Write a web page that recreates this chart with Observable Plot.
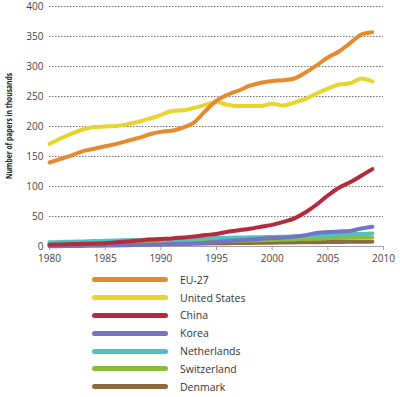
<!DOCTYPE html>
<html>
<head>
<meta charset="utf-8">
<script src="https://cdn.jsdelivr.net/npm/d3@7"></script>
<script src="https://cdn.jsdelivr.net/npm/@observablehq/plot@0.6"></script>
<style>
  html, body { margin: 0; padding: 0; background: #fff; }
  #legend { padding-top: 5px; font-family: "Open Sans", sans-serif; font-size: 10.5px; color: #333; }
  .item { display: flex; align-items: center; height: 17.8px; }
  .sw { margin-left: 92px; width: 76px; height: 5px; border-radius: 3px; }
  .lab { margin-left: 12px; }
</style>
</head>
<body>
<div id="chart"></div>
<div id="legend"></div>
<script>
const years = d3.range(1980, 2010);
const seriesNames = ["EU-27", "United States", "China", "Korea", "Netherlands", "Switzerland", "Denmark"];
const colors = ["#e68a2e", "#e8d42c", "#b52a3c", "#7474c4", "#4dc3c3", "#8cbb3c", "#8b6c40"];
const yTicks = [0, 50, 100, 150, 200, 250, 300, 350, 400];
const xTicks = [1980, 1985, 1990, 1995, 2000, 2005, 2010];

const eu27 = [140, 146, 152, 159, 163, 167, 171, 176, 181, 187, 191, 193, 198, 207, 226, 243, 253, 260, 268, 273, 276, 277, 280, 290, 302, 315, 325, 339, 353, 357];
const usa = [171, 180, 188, 195, 199, 200, 201, 204, 208, 213, 219, 226, 227, 231, 236, 241, 236, 234, 234, 234, 238, 235, 240, 246, 255, 263, 270, 272, 280, 275];
const china = [3, 3.5, 4, 4.5, 5, 5.5, 7, 8.5, 10, 11.5, 12.5, 13.5, 15, 16.5, 19, 21, 24.5, 27, 29.5, 33, 36, 41, 47, 57, 70, 85, 98, 107, 118, 129];
const korea = [0.5, 0.6, 0.8, 1, 1.2, 1.5, 1.8, 2.2, 2.6, 3, 3.5, 4, 4.5, 5, 6, 7.5, 9, 10.5, 11.5, 13, 14, 15, 16.5, 19, 22.5, 24, 25, 26, 30, 33];
const netherlands = [7, 7.5, 8, 8.5, 9, 9.5, 10, 10.5, 11, 11.5, 12, 12.3, 12.7, 13, 13.5, 14, 14.5, 15, 15.3, 15.6, 16, 16.3, 16.8, 17.5, 18.3, 19, 19.8, 20.5, 21, 21.5];
const switzerland = [4, 4.2, 4.4, 4.6, 4.8, 5, 5.3, 5.7, 6.1, 6.5, 7, 7.3, 7.7, 8, 8.5, 9, 9.4, 9.8, 10.2, 10.6, 11, 11.5, 12, 12.6, 13.2, 13.8, 14.3, 14.7, 15, 15.2];
const denmark = [2.5, 2.6, 2.8, 3, 3.1, 3.3, 3.5, 3.7, 3.9, 4.1, 4.3, 4.5, 4.7, 4.9, 5.1, 5.4, 5.6, 5.8, 6, 6.2, 6.4, 6.6, 6.8, 7, 7.2, 7.4, 7.6, 7.8, 8, 8.1];

const values = [eu27, usa, china, korea, netherlands, switzerland, denmark];
const rows = [];
seriesNames.forEach((s, i) => years.forEach((y, j) => rows.push({series: s, year: y, value: values[i][j]})));
const drawOrder = [...seriesNames].reverse();

const plot = Plot.plot({
  width: 400, height: 266,
  marginLeft: 49, marginRight: 17, marginTop: 6, marginBottom: 20,
  style: {fontFamily: "Open Sans, sans-serif", fontSize: "10px", color: "#444", background: "#fff"},
  x: {domain: [1980, 2010], ticks: xTicks, tickFormat: d => String(d), tickSize: 4, tickPadding: 4, label: null},
  y: {domain: [0, 400], ticks: yTicks, tickSize: 0, tickPadding: 6, label: null},
  color: {domain: seriesNames, range: colors},
  marks: [
    Plot.ruleY(yTicks.filter(d => d > 0), {stroke: "#777", strokeWidth: 1, strokeDasharray: "1.5,1.5"}),
    Plot.ruleY([0], {stroke: "#9aa0ad", strokeWidth: 1}),
    ...drawOrder.map(s => Plot.line(rows.filter(r => r.series === s), {
      x: "year", y: "value", stroke: colors[seriesNames.indexOf(s)], strokeWidth: 4, curve: "monotone-x", strokeLinecap: "round"
    }))
  ]
});
d3.select(plot).selectAll("[aria-label='x-axis tick'] path").attr("stroke", "#9aa0ad");
d3.select(plot).append("text")
  .attr("transform", "translate(12,126) rotate(-90)")
  .attr("text-anchor", "middle")
  .attr("font-family", "Open Sans, sans-serif")
  .attr("font-weight", "700")
  .attr("font-size", "9px")
  .attr("fill", "#222")
  .attr("textLength", 106)
  .attr("lengthAdjust", "spacingAndGlyphs")
  .text("Number of papers in thousands");
document.getElementById("chart").appendChild(plot);

const legend = d3.select("#legend");
seriesNames.forEach((s, i) => {
  const it = legend.append("div").attr("class", "item");
  it.append("div").attr("class", "sw").style("background", colors[i]);
  it.append("div").attr("class", "lab").text(s);
});
</script>
</body>
</html>
